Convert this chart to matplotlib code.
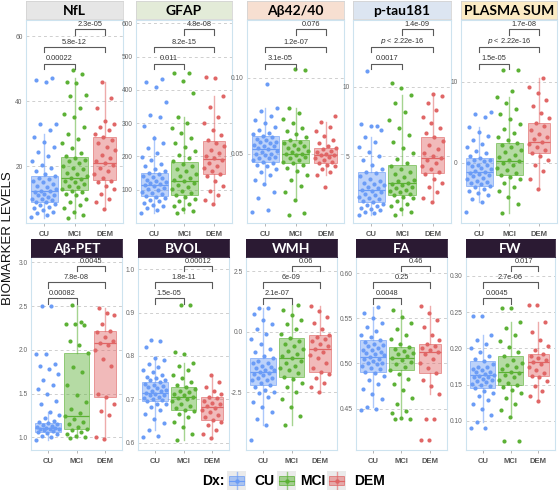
import numpy as np
import matplotlib
matplotlib.use('Agg')
import matplotlib.pyplot as plt
import matplotlib.transforms as mtransforms
from matplotlib.patches import Rectangle

plt.rcParams['font.family'] = ['Liberation Sans', 'DejaVu Sans']

groups = ['CU', 'MCI', 'DEM']
group_colors = ['#6b9cf6', '#5cb135', '#e06666']

panel_names = ['NfL', 'GFAP', 'Aβ42/40', 'p-tau181', 'PLASMA SUM',
               'Aβ-PET', 'BVOL', 'WMH', 'FA', 'FW']
strip_colors = ['#e6e6e6', '#e3ebd8', '#f7dfd1', '#dce5f1', '#fcebc4',
                '#2b1a33', '#2b1a33', '#2b1a33', '#2b1a33', '#2b1a33']

# ---- points ----
nfl_cu = [4.5, 5, 5.5, 6, 6.5, 7, 7.5, 8, 8.5, 9, 9, 9.5, 10, 10, 10.5, 11, 11, 11.5, 12, 12.5,
          12.5, 13, 13.5, 14, 14.5, 15, 15.5, 16, 16.5, 17, 17.5, 18.5, 19.5, 20.5, 21.5, 23, 24.5,
          26, 27.5, 29, 31, 33, 33, 46, 46.5, 47]
nfl_mci = [4, 5, 6, 7, 8, 9, 10, 11, 11.5, 12, 12.5, 13, 13.5, 14, 14.5, 15, 15.5, 16, 16.5, 17,
           17.5, 18, 19, 19.5, 20, 21, 21.5, 22, 22.5, 23, 24, 25.5, 27, 28.5, 30, 32, 35, 36, 38,
           41.5, 42, 45.5, 46, 48.5, 49.5]
nfl_dem = [6.8, 9, 10, 11.5, 13, 14, 15, 15.5, 16.5, 17.5, 18.5, 19.5, 20.5, 21, 21.5, 22.5, 23.5,
           25, 26, 27, 28, 29, 30, 31, 32, 33, 34, 38, 41, 46]

gfap_cu = [30, 38, 45, 50, 55, 60, 65, 70, 75, 78, 82, 86, 90, 94, 98, 102, 106, 110, 113, 116,
           119, 122, 126, 130, 134, 138, 142, 146, 150, 155, 162, 170, 178, 188, 198, 210, 225, 240,
           255, 290, 320, 325, 365, 410, 425, 432]
gfap_mci = [29, 35, 42, 50, 58, 65, 72, 78, 84, 90, 96, 102, 108, 114, 120, 125, 130, 136, 142, 148,
            155, 162, 170, 178, 185, 195, 205, 215, 228, 240, 255, 270, 285, 300, 318, 390, 428, 450, 452]
gfap_dem = [58, 70, 85, 95, 110, 125, 140, 148, 155, 165, 172, 180, 188, 195, 200, 210, 220, 230,
            240, 250, 265, 280, 300, 320, 350, 382, 435, 440]

ab_cu = [0.012, 0.013, 0.021, 0.025, 0.030, 0.033, 0.036, 0.038, 0.040, 0.042, 0.043, 0.044, 0.045,
         0.046, 0.047, 0.047, 0.048, 0.049, 0.050, 0.050, 0.051, 0.052, 0.053, 0.054, 0.055, 0.055,
         0.056, 0.057, 0.058, 0.058, 0.059, 0.060, 0.061, 0.062, 0.063, 0.064, 0.066, 0.068, 0.070,
         0.072, 0.075, 0.078, 0.080, 0.096]
ab_mci = [0.010, 0.011, 0.020, 0.025, 0.029, 0.033, 0.036, 0.039, 0.041, 0.043, 0.044, 0.045, 0.046,
          0.047, 0.048, 0.049, 0.050, 0.050, 0.051, 0.052, 0.053, 0.054, 0.055, 0.056, 0.057, 0.058,
          0.059, 0.061, 0.063, 0.065, 0.067, 0.070, 0.073, 0.077, 0.080, 0.105, 0.106]
ab_dem = [0.028, 0.036, 0.038, 0.040, 0.042, 0.043, 0.044, 0.045, 0.046, 0.047, 0.048, 0.049, 0.049,
          0.050, 0.051, 0.052, 0.053, 0.054, 0.055, 0.057, 0.059, 0.062, 0.065, 0.068, 0.071, 0.075]

pt_cu = [0.8, 0.9, 1.0, 1.1, 1.2, 1.3, 1.4, 1.5, 1.6, 1.7, 1.8, 1.9, 2.0, 2.1, 2.2, 2.3, 2.4, 2.5,
         2.6, 2.7, 2.8, 2.9, 3.0, 3.1, 3.2, 3.4, 3.6, 3.8, 3.9, 4.1, 4.4, 4.7, 5.0, 5.3, 5.7, 6.0,
         6.4, 6.9, 7.2, 7.3, 7.2, 11.1]
pt_mci = [0.8, 1.0, 1.2, 1.4, 1.6, 1.8, 2.0, 2.1, 2.2, 2.3, 2.4, 2.5, 2.6, 2.7, 2.8, 2.9, 3.0, 3.1,
          3.2, 3.3, 3.5, 3.7, 3.9, 4.1, 4.3, 4.5, 4.8, 5.2, 5.6, 6.0, 6.5, 7.0, 7.6, 8.2, 8.8, 9.4,
          9.9, 10.3]
pt_dem = [1.7, 2.0, 2.4, 2.8, 3.1, 3.4, 3.7, 3.9, 4.1, 4.3, 4.5, 4.7, 4.9, 5.0, 5.2, 5.5, 5.8, 6.1,
          6.4, 6.7, 7.0, 7.4, 7.8, 8.3, 8.8, 9.3, 9.5]

ps_cu = [-6.0, -4.8, -4.4, -4.0, -3.7, -3.4, -3.2, -3.0, -2.8, -2.6, -2.5, -2.4, -2.2, -2.0, -1.8,
         -1.6, -1.5, -1.4, -1.2, -1.1, -1.0, -0.8, -0.6, -0.4, -0.3, -0.2, 0.0, 0.2, 0.3, 0.4, 0.6,
         0.9, 1.2, 1.5, 1.9, 2.3, 2.8, 3.3, 3.8, 4.4, 5.6, 6.0, 6.3]
ps_mci = [-6.2, -5.0, -4.2, -3.5, -3.0, -2.5, -2.0, -1.7, -1.5, -1.2, -0.9, -0.6, -0.3, 0.0, 0.2,
          0.4, 0.7, 1.0, 1.3, 1.6, 1.9, 2.2, 2.4, 2.8, 3.2, 3.7, 4.2, 4.8, 5.4, 6.0, 6.7, 7.4, 8.1,
          8.8, 11.4, 11.5]
ps_dem = [-3.2, -2.0, -1.0, -0.3, 0.3, 0.8, 1.2, 1.6, 2.0, 2.3, 2.6, 2.9, 3.2, 3.6, 4.0, 4.5, 4.9,
          5.5, 6.2, 7.0, 7.8, 8.6, 9.4, 10.4]

pet_cu = [0.97, 1.0, 1.02, 1.04, 1.05, 1.06, 1.07, 1.08, 1.09, 1.10, 1.10, 1.11, 1.11, 1.12, 1.13,
          1.14, 1.15, 1.16, 1.17, 1.19, 1.22, 1.26, 1.29, 1.38, 1.42, 1.5, 1.55, 1.6, 1.65, 1.72,
          1.78, 1.82, 1.84, 1.95, 1.95, 2.5, 2.5]
pet_mci = [0.99, 1.0, 1.02, 1.04, 1.06, 1.08, 1.1, 1.12, 1.15, 1.18, 1.21, 1.24, 1.28, 1.32, 1.4,
           1.48, 1.6, 1.75, 1.8, 1.96, 2.05, 2.1, 2.28, 2.3, 2.3, 2.32, 2.51]
pet_dem = [0.98, 1.0, 1.25, 1.3, 1.38, 1.46, 1.5, 1.82, 1.9, 2.0, 2.05, 2.08, 2.1, 2.15, 2.2, 2.21,
           2.3, 2.4, 2.42, 2.48]

bvol_cu = [0.612, 0.615, 0.63, 0.645, 0.655, 0.665, 0.675, 0.682, 0.688, 0.69, 0.695, 0.698, 0.70,
           0.702, 0.706, 0.709, 0.71, 0.712, 0.715, 0.718, 0.72, 0.721, 0.725, 0.728, 0.73, 0.732,
           0.736, 0.74, 0.744, 0.745, 0.748, 0.752, 0.757, 0.762, 0.768, 0.775, 0.782, 0.79, 0.795,
           0.82, 0.835, 0.837]
bvol_mci = [0.606, 0.62, 0.635, 0.648, 0.658, 0.666, 0.672, 0.676, 0.68, 0.685, 0.69, 0.695, 0.70,
            0.703, 0.706, 0.709, 0.712, 0.716, 0.72, 0.724, 0.728, 0.733, 0.74, 0.748, 0.757, 0.767,
            0.776, 0.784, 0.805, 0.81, 0.918, 0.918]
bvol_dem = [0.61, 0.62, 0.63, 0.64, 0.648, 0.652, 0.658, 0.664, 0.67, 0.676, 0.68, 0.684, 0.688,
            0.692, 0.697, 0.702, 0.706, 0.712, 0.72, 0.728, 0.74, 0.756]

wmh_cu = [-4.47, -3.85, -3.6, -3.3, -3.1, -2.9, -2.7, -2.55, -2.5, -2.4, -2.3, -2.2, -2.1, -2.0,
          -2.0, -1.9, -1.9, -1.8, -1.75, -1.7, -1.65, -1.6, -1.6, -1.5, -1.45, -1.4, -1.3, -1.3,
          -1.2, -1.1, -1.0, -0.85, -0.7, -0.5, -0.3, -0.1, 0.1, 0.3, 0.5, 0.75, 0.98, 0.98]
wmh_mci = [-3.86, -3.5, -3.1, -2.8, -2.5, -2.3, -2.1, -1.95, -1.86, -1.7, -1.6, -1.5, -1.4, -1.3,
           -1.2, -1.09, -1.0, -0.9, -0.8, -0.7, -0.6, -0.5, -0.4, -0.26, -0.1, 0.1, 0.3, 0.5, 0.7,
           0.9, 1.1]
wmh_dem = [-2.48, -2.3, -2.1, -1.9, -1.75, -1.65, -1.5, -1.3, -1.1, -0.95, -0.85, -0.72, -0.6,
           -0.5, -0.4, -0.3, -0.2, -0.14, 0.1, 0.35, 0.6, 0.85, 1.07]

fa_cu = [0.448, 0.449, 0.452, 0.46, 0.466, 0.472, 0.477, 0.482, 0.486, 0.489, 0.491, 0.494, 0.495,
         0.497, 0.499, 0.50, 0.501, 0.503, 0.505, 0.505, 0.507, 0.509, 0.51, 0.511, 0.513, 0.515,
         0.515, 0.517, 0.519, 0.52, 0.521, 0.524, 0.526, 0.529, 0.532, 0.536, 0.54, 0.545, 0.55,
         0.556, 0.563]
fa_mci = [0.438, 0.438, 0.44, 0.445, 0.447, 0.455, 0.462, 0.47, 0.477, 0.483, 0.488, 0.493, 0.496,
          0.499, 0.502, 0.504, 0.506, 0.508, 0.51, 0.512, 0.514, 0.516, 0.518, 0.522, 0.527, 0.532,
          0.538, 0.545, 0.552, 0.559]
fa_dem = [0.415, 0.415, 0.438, 0.438, 0.466, 0.475, 0.482, 0.489, 0.495, 0.50, 0.505, 0.51, 0.513,
          0.515, 0.517, 0.519, 0.521, 0.526, 0.532, 0.54, 0.548, 0.556, 0.564]

fw_cu = [0.09, 0.091, 0.099, 0.108, 0.116, 0.123, 0.129, 0.134, 0.138, 0.142, 0.145, 0.148, 0.15,
         0.151, 0.154, 0.155, 0.156, 0.158, 0.16, 0.16, 0.162, 0.163, 0.165, 0.167, 0.168, 0.17,
         0.172, 0.174, 0.175, 0.178, 0.182, 0.186, 0.19, 0.195, 0.2, 0.206, 0.212, 0.218, 0.245,
         0.245]
fw_mci = [0.073, 0.073, 0.106, 0.115, 0.124, 0.132, 0.138, 0.143, 0.147, 0.15, 0.153, 0.156, 0.16,
          0.163, 0.166, 0.168, 0.171, 0.174, 0.177, 0.18, 0.184, 0.189, 0.195, 0.202, 0.21, 0.218,
          0.228, 0.237, 0.256, 0.256]
fw_dem = [0.128, 0.135, 0.142, 0.148, 0.155, 0.16, 0.162, 0.166, 0.17, 0.174, 0.178, 0.181, 0.184,
          0.187, 0.19, 0.193, 0.198, 0.204, 0.212, 0.222, 0.236, 0.26, 0.26]

# ---- box stats: whislo, q1, median, q3, whishi for CU, MCI, DEM ----
nfl_box = [[4, 9, 12.5, 17, 30], [4, 12.6, 16.3, 22.8, 47], [6.8, 15.7, 21, 29, 46]]
gfap_box = [[30, 80, 115, 150, 262], [29, 85, 125, 183, 319], [58, 146, 192, 247, 382]]
ab_box = [[0.030, 0.045, 0.053, 0.062, 0.080], [0.020, 0.044, 0.050, 0.059, 0.080],
          [0.036, 0.044, 0.049, 0.054, 0.071]]
pt_box = [[0.8, 1.7, 2.6, 3.9, 6.4], [0.8, 2.2, 3.1, 4.4, 9.4], [1.7, 3.8, 4.9, 6.4, 9.5]]
ps_box = [[-4.8, -2.8, -1.1, 0.6, 4.4], [-6.2, -1.5, 0.2, 2.4, 8.1], [-3.2, 1.2, 2.6, 4.9, 10.4]]
pet_box = [[0.97, 1.06, 1.11, 1.16, 1.29], [0.99, 1.1, 1.24, 1.96, 2.51], [1.0, 1.46, 2.08, 2.21, 2.48]]
bvol_box = [[0.63, 0.695, 0.715, 0.74, 0.795], [0.606, 0.675, 0.705, 0.729, 0.784],
            [0.61, 0.652, 0.683, 0.706, 0.756]]
wmh_box = [[-3.85, -2.2, -1.65, -1.09, 0.98], [-3.86, -1.86, -1.09, -0.26, 1.1],
           [-2.48, -1.65, -0.72, -0.14, 1.07]]
fa_box = [[0.452, 0.491, 0.507, 0.526, 0.563], [0.44, 0.493, 0.506, 0.518, 0.559],
          [0.466, 0.489, 0.513, 0.521, 0.564]]
fw_box = [[0.099, 0.145, 0.163, 0.182, 0.218], [0.106, 0.15, 0.168, 0.189, 0.237],
          [0.128, 0.162, 0.181, 0.193, 0.236]]

# ---- p values: CU-MCI, CU-DEM, MCI-DEM ----
nfl_p = ['0.00022', '5.8e-12', '2.3e-05']
gfap_p = ['0.011', '8.2e-15', '4.8e-08']
ab_p = ['3.1e-05', '1.2e-07', '0.076']
pt_p = ['0.0017', '$p$ < 2.22e-16', '1.4e-09']
ps_p = ['1.5e-05', '$p$ < 2.22e-16', '1.7e-08']
pet_p = ['0.00082', '7.8e-08', '0.0045']
bvol_p = ['1.5e-05', '1.8e-11', '0.00012']
wmh_p = ['2.1e-07', '6e-09', '0.06']
fa_p = ['0.0048', '0.25', '0.46']
fw_p = ['0.0045', '2.7e-06', '0.017']

# ---- y ticks ----
nfl_ticks = [20, 40, 60]
gfap_ticks = [100, 200, 300, 400, 500, 600]
ab_ticks = [0.05, 0.10]
pt_ticks = [5, 10]
ps_ticks = [0, 10]
pet_ticks = [1.0, 1.5, 2.0, 2.5, 3.0]
bvol_ticks = [0.6, 0.7, 0.8, 0.9, 1.0]
wmh_ticks = [-2.5, 0.0, 2.5]
fa_ticks = [0.45, 0.50, 0.55, 0.60]
fw_ticks = [0.10, 0.15, 0.20, 0.25, 0.30]
tick_fmt = ['{:.0f}', '{:.0f}', '{:.2f}', '{:.0f}', '{:.0f}',
            '{:.1f}', '{:.1f}', '{:.1f}', '{:.2f}', '{:.2f}']

points = [(nfl_cu, nfl_mci, nfl_dem), (gfap_cu, gfap_mci, gfap_dem), (ab_cu, ab_mci, ab_dem),
          (pt_cu, pt_mci, pt_dem), (ps_cu, ps_mci, ps_dem), (pet_cu, pet_mci, pet_dem),
          (bvol_cu, bvol_mci, bvol_dem), (wmh_cu, wmh_mci, wmh_dem), (fa_cu, fa_mci, fa_dem),
          (fw_cu, fw_mci, fw_dem)]
boxes = [nfl_box, gfap_box, ab_box, pt_box, ps_box, pet_box, bvol_box, wmh_box, fa_box, fw_box]
pvals = [nfl_p, gfap_p, ab_p, pt_p, ps_p, pet_p, bvol_p, wmh_p, fa_p, fw_p]
yticks = [nfl_ticks, gfap_ticks, ab_ticks, pt_ticks, ps_ticks,
          pet_ticks, bvol_ticks, wmh_ticks, fa_ticks, fw_ticks]

# ---- layout (pixels) ----
W, H = 560, 491
ylims = [(2.5, 65), (0, 610), (0.0046, 0.138), (0.2, 14.8), (-7.4, 17.6),
         (0.855, 3.06), (0.583, 1.028), (-4.89, 3.09), (0.404, 0.618), (0.060, 0.326)]
col_x = [(26, 123), (136, 232), (247, 344), (353, 451), (461, 557),
         (31, 122), (138, 229), (246, 337), (356, 447), (466, 555)]
row_y = [(20, 223), (257, 450)]
strip_y = [(1, 19), (239, 256.5)]


def rect(x0, x1, ytop, ybot):
    return [x0 / W, 1 - ybot / H, (x1 - x0) / W, (ybot - ytop) / H]


fig = plt.figure(figsize=(W / 100, H / 100), dpi=100)

for i in range(10):
    row = i // 5
    x0, x1 = col_x[i]
    ax = fig.add_axes(rect(x0, x1, *row_y[row]))

    # jittered points
    for gi, vals in enumerate(points[i]):
        v = np.asarray(vals, dtype=float)
        n = len(v)
        jw = 0.42 if gi < 2 else 0.36
        off = ((np.arange(n) * 0.6180339 + 0.23 * gi) % 1.0 - 0.5) * 2 * jw
        ax.scatter(gi + 1 + off, v, s=9, color=group_colors[gi], lw=0, zorder=2)

    # boxes
    stats = [dict(whislo=b[0], q1=b[1], med=b[2], q3=b[3], whishi=b[4]) for b in boxes[i]]
    bp = ax.bxp(stats, positions=[1, 2, 3], widths=[0.9, 0.9, 0.75], patch_artist=True,
                showfliers=False, showcaps=False)
    for gi in range(3):
        c = group_colors[gi]
        bp['boxes'][gi].set(facecolor=matplotlib.colors.to_rgba(c, 0.45),
                            edgecolor=matplotlib.colors.to_rgba(c, 0.6), lw=0.7, zorder=3)
        bp['medians'][gi].set(color=c, lw=0.9, zorder=4)
        for w in bp['whiskers'][2 * gi:2 * gi + 2]:
            w.set(color=matplotlib.colors.to_rgba(c, 0.55), lw=1.0, zorder=3)

    # significance brackets
    trans = mtransforms.blended_transform_factory(ax.transData, ax.transAxes)
    pairs = [(1, 2), (1, 3), (2, 3)]
    levels = [0.785, 0.868, 0.955]
    for (a, b), lev, lab in zip(pairs, levels, pvals[i]):
        ax.plot([a, a, b, b], [lev - 0.028, lev, lev, lev - 0.028], color='#5a5a5a',
                lw=0.8, transform=trans, zorder=5, clip_on=False)
        ax.text((a + b) / 2, lev + 0.006, lab, transform=trans, ha='center', va='bottom',
                fontsize=5.3, color='#333333')

    ax.set_xlim(0.4, 3.6)
    ax.set_ylim(*ylims[i])
    ax.set_xticks([1, 2, 3])
    ax.set_xticklabels(groups, fontsize=5.5, fontweight='bold', color='#555555')
    ax.set_yticks(yticks[i])
    ax.set_yticklabels([tick_fmt[i].format(t) for t in yticks[i]], fontsize=4.8, color='#666666')
    ax.tick_params(axis='x', length=2, width=0.5, color='#999999', pad=4)
    ax.tick_params(axis='y', length=0, pad=2.5)
    ax.yaxis.grid(True, color='#cfcfcf', ls=(0, (3, 3)), lw=0.7)
    ax.set_axisbelow(True)
    for sp in ax.spines.values():
        sp.set_color('#cde3ef')
        sp.set_linewidth(0.8)

    # facet strip
    sax = fig.add_axes(rect(x0, x1, *strip_y[row]))
    sax.set_facecolor(strip_colors[i])
    sax.set_xticks([])
    sax.set_yticks([])
    for sp in sax.spines.values():
        sp.set_color('#d4d4d4' if row == 0 else strip_colors[i])
        sp.set_linewidth(0.6)
    sax.text(0.5, 0.45, panel_names[i], ha='center', va='center', fontsize=10,
             fontweight='bold', color='black' if row == 0 else 'white',
             family=['Lato', 'DejaVu Sans'])

fig.text(8 / W, 1 - 238 / H, 'BIOMARKER LEVELS', rotation=90, ha='center', va='center',
         fontsize=9.5, color='#111111')

# legend
fig.text(202 / W, 1 - 481 / H, 'Dx:', ha='left', va='center', fontsize=10, fontweight='bold')
key_x = [227, 277, 327]
lab_x = [254, 300, 354]
for gi in range(3):
    kax = fig.add_axes(rect(key_x[gi], key_x[gi] + 19, 471, 490))
    kax.set_facecolor('#ebebeb')
    kax.set_xlim(0, 1)
    kax.set_ylim(0, 1)
    kax.set_xticks([])
    kax.set_yticks([])
    for sp in kax.spines.values():
        sp.set_visible(False)
    c = group_colors[gi]
    kax.plot([0.5, 0.5], [0.05, 0.95], color=matplotlib.colors.to_rgba(c, 0.6), lw=1)
    kax.add_patch(Rectangle((0.08, 0.28), 0.84, 0.44, facecolor=matplotlib.colors.to_rgba(c, 0.5),
                            edgecolor=matplotlib.colors.to_rgba(c, 0.7), lw=0.7))
    kax.plot([0.08, 0.92], [0.5, 0.5], color=c, lw=0.8)
    kax.scatter([0.5], [0.5], s=10, color=c, lw=0)
    fig.text(lab_x[gi] / W, 1 - 481 / H, groups[gi], ha='left', va='center', fontsize=10,
             fontweight='bold')

fig.savefig('out.png', dpi=100)
